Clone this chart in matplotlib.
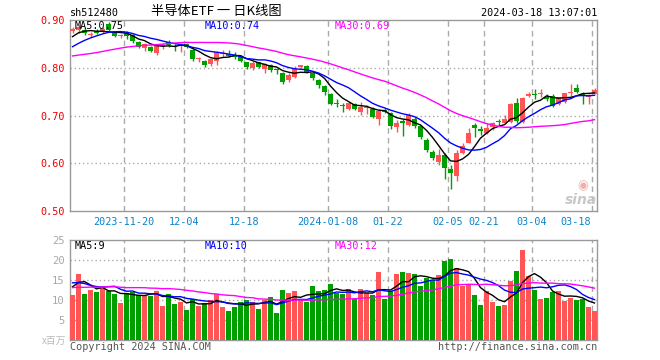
import numpy as np
import pandas as pd
import matplotlib
matplotlib.use("Agg")
import matplotlib.pyplot as plt

# ---------------- data ----------------
date_labels = ["2023-11-20", "12-04", "12-18", "2024-01-08", "01-22",
               "02-05", "02-21", "03-04", "03-18"]
date_index = [9, 19, 29, 43, 53, 63, 69, 77, 87]

opens = [0.876, 0.879, 0.880, 0.869, 0.877, 0.875, 0.892, 0.873, 0.867, 0.872,
         0.869, 0.853, 0.841, 0.844, 0.830, 0.846, 0.853, 0.845, 0.846, 0.849,
         0.837, 0.818, 0.815, 0.808, 0.815, 0.829, 0.829, 0.8245, 0.825, 0.811,
         0.799, 0.811, 0.797, 0.806, 0.7953, 0.790, 0.774, 0.781, 0.801, 0.804,
         0.788, 0.774, 0.762, 0.746, 0.7250, 0.7219, 0.713, 0.724, 0.708, 0.7164,
         0.713, 0.692, 0.7115, 0.7045, 0.675, 0.689, 0.680, 0.692, 0.677, 0.649,
         0.624, 0.603, 0.617, 0.587, 0.573, 0.622, 0.643, 0.680, 0.6710, 0.663,
         0.675, 0.6885, 0.685, 0.687, 0.727, 0.687, 0.741, 0.7443, 0.745, 0.738,
         0.741, 0.724, 0.729, 0.7478, 0.757, 0.7450, 0.738, 0.746]
closes = [0.882, 0.885, 0.872, 0.871, 0.873, 0.881, 0.879, 0.867, 0.869, 0.866,
          0.855, 0.844, 0.850, 0.835, 0.848, 0.848, 0.848, 0.844, 0.848, 0.844,
          0.818, 0.820, 0.806, 0.818, 0.832, 0.831, 0.825, 0.8235, 0.815, 0.802,
          0.809, 0.802, 0.808, 0.795, 0.7946, 0.771, 0.785, 0.797, 0.805, 0.792,
          0.778, 0.764, 0.750, 0.724, 0.7243, 0.7205, 0.727, 0.713, 0.7185, 0.7171,
          0.6975, 0.710, 0.7080, 0.677, 0.685, 0.6835, 0.701, 0.678, 0.654, 0.628,
          0.610, 0.617, 0.591, 0.579, 0.622, 0.636, 0.664, 0.673, 0.6682, 0.673,
          0.685, 0.6864, 0.692, 0.725, 0.689, 0.736, 0.746, 0.7429, 0.7464, 0.734,
          0.720, 0.738, 0.748, 0.7499, 0.750, 0.7429, 0.7408, 0.753]
highs = [0.886, 0.890, 0.884, 0.875, 0.882, 0.885, 0.896, 0.876, 0.871, 0.876,
         0.871, 0.855, 0.851, 0.846, 0.850, 0.852, 0.858, 0.850, 0.851, 0.851,
         0.839, 0.823, 0.816, 0.820, 0.836, 0.837, 0.837, 0.832, 0.826, 0.812,
         0.815, 0.813, 0.809, 0.808, 0.799, 0.792, 0.788, 0.804, 0.806, 0.806,
         0.790, 0.776, 0.764, 0.748, 0.734, 0.727, 0.729, 0.727, 0.729, 0.722,
         0.717, 0.713, 0.715, 0.708, 0.6905, 0.692, 0.706, 0.696, 0.678, 0.652,
         0.628, 0.629, 0.622, 0.596, 0.628, 0.642, 0.673, 0.684, 0.678, 0.685,
         0.687, 0.692, 0.701, 0.727, 0.736, 0.738, 0.750, 0.755, 0.755, 0.746,
         0.746, 0.739, 0.748, 0.766, 0.766, 0.750, 0.746, 0.757]
lows = [0.873, 0.873, 0.868, 0.864, 0.870, 0.873, 0.876, 0.865, 0.862, 0.860,
        0.851, 0.842, 0.836, 0.833, 0.827, 0.839, 0.844, 0.836, 0.834, 0.842,
        0.815, 0.811, 0.801, 0.804, 0.806, 0.823, 0.822, 0.818, 0.812, 0.797,
        0.795, 0.799, 0.788, 0.792, 0.787, 0.767, 0.771, 0.778, 0.799, 0.788,
        0.774, 0.757, 0.743, 0.722, 0.717, 0.708, 0.7115, 0.7115, 0.701, 0.703,
        0.694, 0.680, 0.7045, 0.671, 0.666, 0.657, 0.678, 0.673, 0.650, 0.624,
        0.607, 0.596, 0.568, 0.547, 0.5635, 0.619, 0.642, 0.656, 0.659, 0.661,
        0.670, 0.678, 0.682, 0.685, 0.685, 0.685, 0.738, 0.734, 0.738, 0.731,
        0.717, 0.722, 0.727, 0.741, 0.748, 0.725, 0.724, 0.745]
volumes = [11.25, 16.6, 11.5, 12.5, 12.0, 13.2, 12.2, 11.5, 9.3, 11.8,
           12.0, 11.25, 11.25, 11.0, 12.25, 8.6, 11.5, 9.1, 9.6, 7.5,
           10.25, 8.6, 9.2, 9.9, 11.5, 8.3, 7.3, 8.25, 9.6, 10.0,
           9.6, 7.75, 10.0, 10.8, 6.8, 12.5, 11.8, 12.25, 10.0, 9.6,
           13.5, 12.25, 12.5, 14.0, 11.7, 11.5, 12.7, 10.2, 12.75, 11.7,
           11.25, 17.0, 10.25, 12.25, 16.5, 17.0, 16.75, 16.5, 13.5, 15.5,
           15.0, 16.25, 19.75, 20.25, 18.0, 13.5, 14.0, 11.25, 8.75, 12.3,
           9.5, 8.5, 8.75, 14.75, 17.25, 22.5, 16.0, 12.5, 10.25, 10.5,
           12.0, 12.25, 9.75, 10.5, 10.0, 10.25, 8.25, 7.25]

# estimated sessions just before the window (only used to seed moving averages)
prior_closes = [0.83, 0.825, 0.82, 0.815, 0.81, 0.805, 0.80, 0.80, 0.805, 0.81,
                0.81, 0.815, 0.82, 0.82, 0.815, 0.81, 0.815, 0.82, 0.825, 0.83,
                0.815, 0.81, 0.82, 0.83, 0.84, 0.845, 0.855, 0.865, 0.879]
prior_volumes = [14, 12, 11, 13, 12, 10, 11, 13, 15, 12, 11, 12, 14, 13, 12,
                 11, 12, 13, 14, 15, 16, 14, 17, 15, 14.5, 11.1, 10.5, 16.75, 16.9]

ma_windows = [5, 10, 30]
ma_colors = ["#000000", "#0000ff", "#ff00ff"]

# ---------------- helpers ----------------
W, H = 660, 360
RED = "#ff5555"
GREEN = "#009f00"
GRID = "#aaaaaa"
SPINE = "#999999"
MONO = "DejaVu Sans Mono"


def fx(px):
    return px / W


def fy(py):
    return 1 - py / H


n = len(closes)
x = np.arange(n)
o = np.array(opens)
c = np.array(closes)
hi = np.array(highs)
lo = np.array(lows)
v = np.array(volumes)
up = c >= o
cols = np.where(up, RED, GREEN)

full_c = pd.Series(list(prior_closes) + list(closes))
full_v = pd.Series(list(prior_volumes) + list(volumes))
k = len(prior_closes)
price_ma = {w: full_c.rolling(w).mean().values[k:] for w in ma_windows}
vol_ma = {w: full_v.rolling(w).mean().values[k:] for w in ma_windows}

fig = plt.figure(figsize=(W / 100, H / 100), dpi=100)
fig.patch.set_facecolor("white")

L, R = 70, 597
ax = fig.add_axes([fx(L), fy(211), fx(R - L), (211 - 20) / H])
axv = fig.add_axes([fx(L), fy(340), fx(R - L), (340 - 240) / H])

xmin, xmax = -0.42, (R - 72.5) / 6.0

for a in (ax, axv):
    a.set_xlim(xmin, xmax)
    for s in a.spines.values():
        s.set_color(SPINE)
        s.set_linewidth(1.0)
    a.set_xticks([])
    a.tick_params(axis="y", length=0)
    for di in date_index:
        a.axvline(di - 0.45, color=GRID, lw=1.0, ls=(0, (4, 3)), zorder=1)

# ---- price panel ----
ax.set_ylim(0.50, 0.90)
ax.set_yticks([0.5, 0.6, 0.7, 0.8, 0.9])
ax.set_yticklabels(["0.50", "0.60", "0.70", "0.80", "0.90"], fontfamily=MONO,
                   fontsize=7.3, color="#ee0000")
ax.tick_params(axis="y", pad=4)
for gy in [0.6, 0.7, 0.8]:
    ax.axhline(gy, color=GRID, lw=1.0, ls=(0, (1, 2)), zorder=1)

bw = 5 / 6
body_bot = np.minimum(o, c)
body_h = np.maximum(np.abs(c - o), 0.0018)
ax.vlines(x, lo, hi, colors=cols, lw=1.0, zorder=3)
ax.bar(x, body_h, bw, bottom=body_bot, color=cols, edgecolor="none", zorder=4)
for w, col in zip(ma_windows, ma_colors):
    ax.plot(x, price_ma[w], color=col, lw=1.0, zorder=5)

fig.text(fx(75), fy(26), "MA5:%.2f" % price_ma[5][-1], fontfamily=MONO,
         fontsize=7.3, color="#000000", va="center", ha="left")
fig.text(fx(205), fy(26), "MA10:%.2f" % price_ma[10][-1], fontfamily=MONO,
         fontsize=7.3, color="#0000ff", va="center", ha="left")
fig.text(fx(335), fy(26), "MA30:%.2f" % price_ma[30][-1], fontfamily=MONO,
         fontsize=7.3, color="#ff00ff", va="center", ha="left")

# sina watermark
fig.text(fx(581), fy(200), "sina", fontfamily="DejaVu Sans", fontsize=10,
         fontweight="bold", fontstyle="italic", color="#c8c8c8", ha="center",
         va="center")
fig.text(fx(583), fy(186), "\u25c9", fontfamily="DejaVu Sans", fontsize=9,
         color="#f0b0b0", ha="center", va="center")

# date labels
for i, (di, lab) in enumerate(zip(date_index, date_labels)):
    px = 70 + 6 * di
    if i == len(date_labels) - 1:
        fig.text(fx(px - 1), fy(222), lab, fontfamily=MONO, fontsize=7.3,
                 color="#0a84cc", ha="right", va="center")
    else:
        fig.text(fx(px), fy(222), lab, fontfamily=MONO, fontsize=7.3,
                 color="#0a84cc", ha="center", va="center")

# ---- volume panel ----
axv.set_ylim(0, 25)
axv.set_yticks([5, 10, 15, 20, 25])
axv.set_yticklabels(["5", "10", "15", "20", "25"], fontfamily=MONO,
                    fontsize=7.6, color="#a8a8a8")
axv.tick_params(axis="y", pad=4)
for gy in [5, 10, 15, 20]:
    axv.axhline(gy, color=GRID, lw=1.0, ls=(0, (1, 2)), zorder=1)
axv.bar(x, v, bw, color=cols, edgecolor="none", zorder=3)
for w, col in zip(ma_windows, ma_colors):
    axv.plot(x, vol_ma[w], color=col, lw=1.0, zorder=5)

fig.text(fx(75), fy(246), "MA5:%d" % int(vol_ma[5][-1]), fontfamily=MONO,
         fontsize=7.3, color="#000000", va="center", ha="left")
fig.text(fx(205), fy(246), "MA10:%d" % int(vol_ma[10][-1]), fontfamily=MONO,
         fontsize=7.3, color="#0000ff", va="center", ha="left")
fig.text(fx(335), fy(246), "MA30:%d" % int(vol_ma[30][-1]), fontfamily=MONO,
         fontsize=7.3, color="#ff00ff", va="center", ha="left")

fig.text(fx(66), fy(341), "x百万", fontfamily=["Noto Sans CJK SC", "DejaVu Sans"],
         fontsize=7, color="#bbbbbb", ha="right", va="center")

# ---- header / footer ----
fig.text(fx(70), fy(13), "sh512480", fontfamily=MONO, fontsize=7.3,
         color="#000000", ha="left", va="center")
fig.text(fx(216), fy(12), "半导体ETF 一 日K线图",
         fontfamily=["Noto Sans CJK SC", "DejaVu Sans"], fontsize=9.5,
         color="#000000", ha="center", va="center")
fig.text(fx(597), fy(13), "2024-03-18 13:07:01", fontfamily=MONO, fontsize=7.3,
         color="#000000", ha="right", va="center")
fig.text(fx(70), fy(347), "Copyright 2024 SINA.COM", fontfamily=MONO,
         fontsize=7.3, color="#555555", ha="left", va="center")
fig.text(fx(597), fy(347), "http://finance.sina.com.cn", fontfamily=MONO,
         fontsize=7.3, color="#555555", ha="right", va="center")

fig.savefig("out.png", dpi=100)
